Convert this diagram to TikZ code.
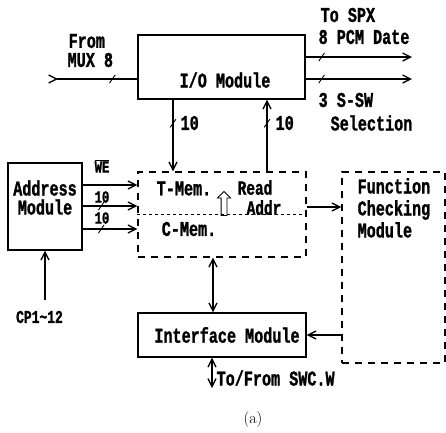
\documentclass[tikz,border=0pt]{standalone}
\usepackage{fontspec}
\newfontfamily\blockfont[FakeStretch=0.72, BoldFeatures={FakeBold=1.2}]{Liberation Mono}
\usetikzlibrary{arrows.meta, positioning, shapes.arrows}

\begin{document}
\begin{tikzpicture}[
  x=10pt, y=-10pt,
  line width=1.3pt,
  txt/.style={font=\blockfont\bfseries\fontsize{21}{22}\selectfont, inner sep=0pt},
  stxt/.style={font=\blockfont\bfseries\fontsize{17}{18}\selectfont, inner sep=0pt},
  blk/.style={draw, rectangle, inner sep=0pt},
  dbox/.style={draw, rectangle, dash pattern=on 7pt off 6pt},
  sig/.style={-{Straight Barb[length=8pt,width=8pt]}},
  bus/.style={{Straight Barb[length=8pt,width=8pt]}-{Straight Barb[length=8pt,width=8pt]}},
  tick/.style={draw, rectangle, inner sep=0pt, minimum width=0pt,
               minimum height=10pt, rotate=-35, line width=0.9pt}
]
  \useasboundingbox (0,0) rectangle (44.6,43.2);

  % Blocks
  \node[blk, minimum width=167pt, minimum height=64pt] (io) at (22.15,6.7) {};
  \node[txt] (iolbl) at (22.5,8.0) {I/O Module};

  \node[blk, minimum width=74pt, minimum height=87pt] (addr) at (4.5,20.65) {};
  \node[txt, align=center, font=\blockfont\bfseries\fontsize{21}{19}\selectfont]
    (addrlbl) at (4.5,19.75) {Address\\Module};

  \node[dbox, minimum width=168pt, minimum height=85pt] (mem) at (22.2,21.45) {};
  \draw[dash pattern=on 3pt off 3pt, line width=1pt] (mem.west) -- (mem.east);
  \node[txt] (tmem) at (18.4,18.85) {T-Mem.};
  \node[txt, font=\blockfont\bfseries\fontsize{20}{20}\selectfont] (rd) at (25.5,18.75) {Read};
  \node[txt, font=\blockfont\bfseries\fontsize{20}{20}\selectfont] (rdaddr) at (26.4,20.75) {Addr};
  \node[txt] (cmem) at (18.9,22.9) {C-Mem.};
  \node[single arrow, draw, line width=0.9pt, shape border rotate=90,
        inner sep=2.5pt, minimum height=24pt, single arrow head extend=3.5pt]
    (rdarrow) at (22.4,20.5) {};

  \node[dbox, minimum width=103pt, minimum height=191pt] (fcm) at (39.35,26.75) {};
  \node[txt, align=left, anchor=north west] (fcmlbl) at (35.7,17.75)
    {Function\\Checking\\Module};

  \node[blk, minimum width=168pt, minimum height=44pt] (ifm) at (22.2,33.5) {};
  \node[txt] (ifmlbl) at (22.7,33.5) {Interface Module};

  % I/O module side
  \coordinate (muxin) at (4.8,7.9);
  \draw[{Straight Barb[reversed,length=8pt,width=8pt]}-] (muxin) -- node[tick, pos=0.72] {} (muxin -| io.west);
  \node[txt, anchor=west] (from) at (6.8,4.1) {From};
  \node[txt, anchor=west] (mux) at (6.7,6.0) {MUX 8};

  \coordinate (pcm) at (41.2,5.7);
  \coordinate (ssw) at (41.2,7.9);
  \draw[sig] (pcm -| io.east) -- node[tick, pos=0.15] {} (pcm);
  \draw[sig] (ssw -| io.east) -- node[tick, pos=0.15] {} (ssw);
  \node[txt, anchor=west] (spx) at (32.0,1.5) {To SPX};
  \node[txt, anchor=west] (pcmlbl) at (31.8,3.7) {8 PCM Date};
  \node[txt, anchor=west] (sswlbl) at (31.8,10.0) {3 S-SW};
  \node[txt, anchor=west] (sel) at (33.0,12.3) {Selection};

  % Buses to memory
  \coordinate (wbus) at (17.3,12.3);
  \coordinate (rbus) at (26.7,12.3);
  \draw[sig] (wbus |- io.south) -- node[tick, pos=0.33] {} (wbus |- mem.north);
  \draw[sig] (rbus |- mem.north) -- node[tick, pos=0.67] {} (rbus |- io.south);
  \node[txt, anchor=west] (wlbl) at (18.0,12.3) {10};
  \node[txt, anchor=west] (rlbl) at (27.5,12.3) {10};

  % Address module lines
  \coordinate (we) at (11.0,18.5);
  \coordinate (ta) at (11.0,20.6);
  \coordinate (ca) at (11.0,22.9);
  \draw[sig] (we -| addr.east) -- (we -| mem.west);
  \draw[sig] (ta -| addr.east) -- node[tick, pos=0.34] {} (ta -| mem.west);
  \draw[sig] (ca -| addr.east) -- node[tick, pos=0.34] {} (ca -| mem.west);
  \node[stxt] (welbl) at (10.2,16.6) {\(\overline{\hbox{WE}}\)};
  \node[stxt] (talbl) at (10.2,19.7) {10};
  \node[stxt] (calbl) at (10.2,21.8) {10};

  \coordinate (cp) at (4.5,30.0);
  \draw[sig] (cp) -- (addr.south);
  \node[txt, font=\blockfont\bfseries\fontsize{18}{18}\selectfont] (cplbl) at (3.95,31.7) {CP1\textasciitilde12};

  % Function checking and interface
  \coordinate (fchk) at (32.4,20.7);
  \draw[sig] (fchk -| mem.east) -- (fchk -| fcm.west);
  \draw[sig] (fcm.west |- ifm.east) -- (ifm.east);

  \coordinate (cbus) at (21.3,28.5);
  \draw[bus] (cbus |- mem.south) -- (cbus |- ifm.north);
  \coordinate (swc) at (21.2,38.8);
  \draw[bus] (swc |- ifm.south) -- (swc);
  \node[txt, anchor=west] (swclbl) at (21.6,37.8) {To/From SWC.W};

  % Caption
  \node[font=\fontsize{16}{17}\selectfont] (cap) at (25.3,41.9) {(a)};
\end{tikzpicture}
\end{document}
